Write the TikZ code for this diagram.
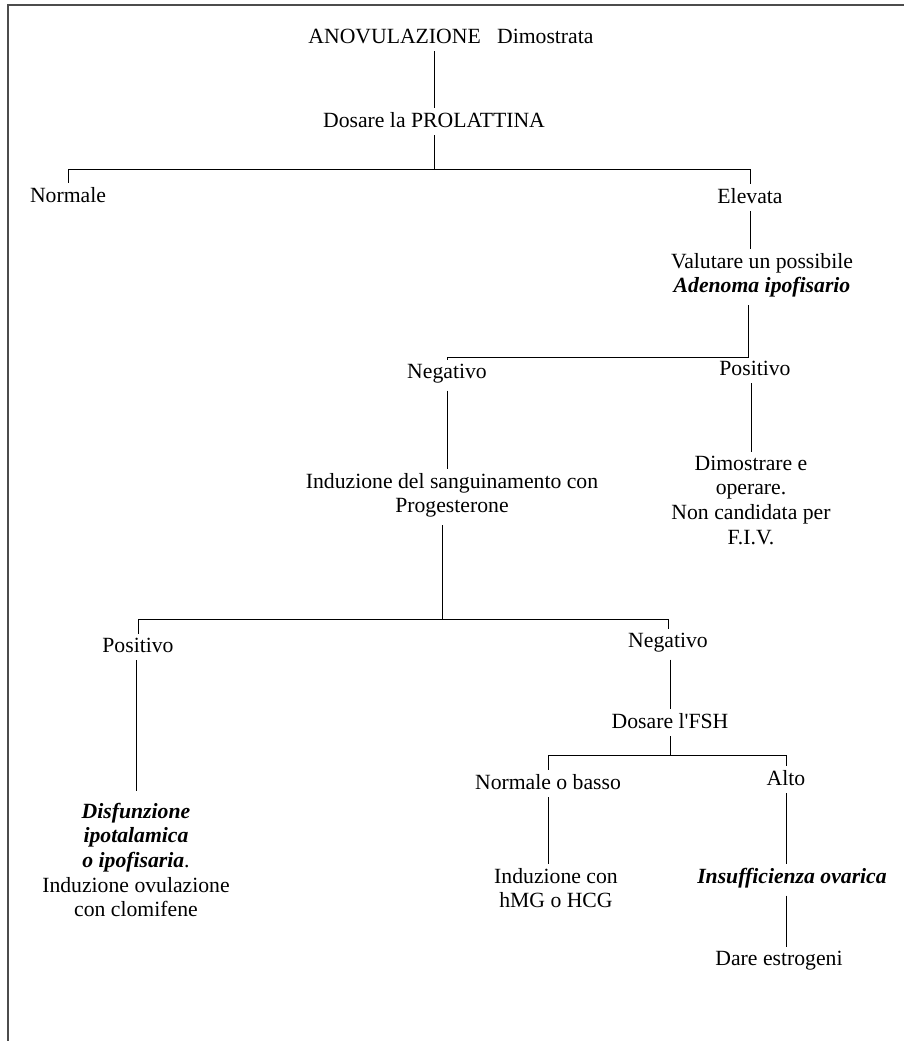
\documentclass[tikz,border=0pt]{standalone}
\usepackage{fontspec}
\setmainfont{Liberation Serif}
\newfontfamily\straightfont{Liberation Serif}
\usetikzlibrary{positioning}
\newcommand{\bfit}[1]{\textbf{\textit{#1}}}
\tikzset{
  txt/.style={font=\fontsize{10.85}{12.3}\selectfont, inner sep=0pt, outer sep=0pt, align=center},
  link/.style={line width=0.5pt, shorten <=4pt, shorten >=2pt},
  bar/.style={line width=0.5pt, shorten <=2pt, shorten >=2pt},
  pageframe/.style={draw=black!70, line width=0.8pt},
}

\begin{document}
\begin{tikzpicture}[x=1pt,y=1pt]
  \useasboundingbox (0,0) rectangle (452,-520.5);
  \draw[pageframe] (452,-2.5) -- (4,-2.5) -- (4,-520.5);

  \node[txt, anchor=base] (anov) at (225.5,-21.5) {ANOVULAZIONE~~~Dimostrata};
  \node[txt, below left=42pt and 8.5pt of anov.base, anchor=base] (dos) {Dosare la PROLATTINA};
  \node[txt, below left=37.5pt and 183pt of dos.base, anchor=base] (norm) {Normale};
  \node[txt, below right=38pt and 158pt of dos.base, anchor=base] (elev) {Elevata};
  \node[txt, below right=25pt and 6pt of elev.base, anchor=north] (val) {Valutare un possibile\\\bfit{Adenoma ipofisario}};

  \node[txt, below left=62.5pt and 157.5pt of val.north, anchor=base] (neg1) {Negativo};
  \node[txt, below left=61pt and 3.5pt of val.north, anchor=base] (pos1) {Positivo};
  \node[txt, below right=47.5pt and 2.5pt of neg1.base, anchor=north] (ind1) {Induzione del sanguinamento con\\Progesterone};
  \node[txt, below left=40.5pt and 2pt of pos1.base, anchor=north] (dim) {Dimostrare e\\operare.\\Non candidata per\\F.I.V.};

  \node[txt, below left=89.5pt and 157pt of ind1.north, anchor=base] (pos2) {Positivo};
  \node[txt, below right=87pt and 108pt of ind1.north, anchor=base] (neg2) {Negativo};
  \node[txt, below left=75.5pt and 1pt of pos2.base, anchor=north] (disf) {\bfit{Disfunzione}\\\bfit{ipotalamica}\\\bfit{o ipofisaria}.\\Induzione ovulazione\\con clomifene};
  \node[txt, below right=40.5pt and 1pt of neg2.base, anchor=base] (fsh) {Dosare l{\straightfont'}FSH};

  \node[txt, below left=30.5pt and 61pt of fsh.base, anchor=base] (nob) {Normale o basso};
  \node[txt, below right=28.5pt and 58pt of fsh.base, anchor=base] (alto) {Alto};
  \node[txt, below right=39.5pt and 4pt of nob.base, anchor=north] (indc) {Induzione con\\hMG o HCG};
  \node[txt, below right=49pt and 3pt of alto.base, anchor=base] (insuf) {\bfit{Insufficienza ovarica}};
  \node[txt, below left=41pt and 6.5pt of insuf.base, anchor=base] (dare) {Dare estrogeni};

  \coordinate[below=21pt of dos.base] (b1);
  \coordinate[below left=52pt and 7pt of val.north] (b2);
  \coordinate[below left=73pt and 5pt of ind1.north] (b3);
  \coordinate[below=13.5pt of fsh.base] (b4);

  \draw[link] (anov.south -| dos) -- (dos.north);
  \draw[link, shorten >=0pt] (dos.south) -- (b1);
  \draw[bar] (norm.north) |- (b1) -| (elev.north);
  \draw[link] (elev.south) -- (elev.south |- val.north);
  \draw[link] (val.south -| b2) -- (b2) -| (neg1.north);
  \draw[link] (pos1.south -| dim.north) -- (dim.north);
  \draw[link] (neg1.south) -- (neg1.south |- ind1.north);
  \draw[link, shorten >=0pt] (ind1.south -| b3) -- (b3);
  \draw[bar] (pos2.north) |- (b3) -| (neg2.north);
  \draw[link, shorten >=6pt] (pos2.south -| disf.north) -- (disf.north);
  \draw[link] (neg2.south -| fsh.north) -- (fsh.north);
  \draw[link, shorten >=0pt] (fsh.south) -- (b4);
  \draw[bar] (nob.north) |- (b4) -| (alto.north);
  \draw[link] (nob.south) -- (nob.south |- indc.north);
  \draw[link] (alto.south) -- (alto.south |- insuf.north);
  \draw[link] (insuf.south -| alto) -- (dare.north -| alto);
\end{tikzpicture}
\end{document}
